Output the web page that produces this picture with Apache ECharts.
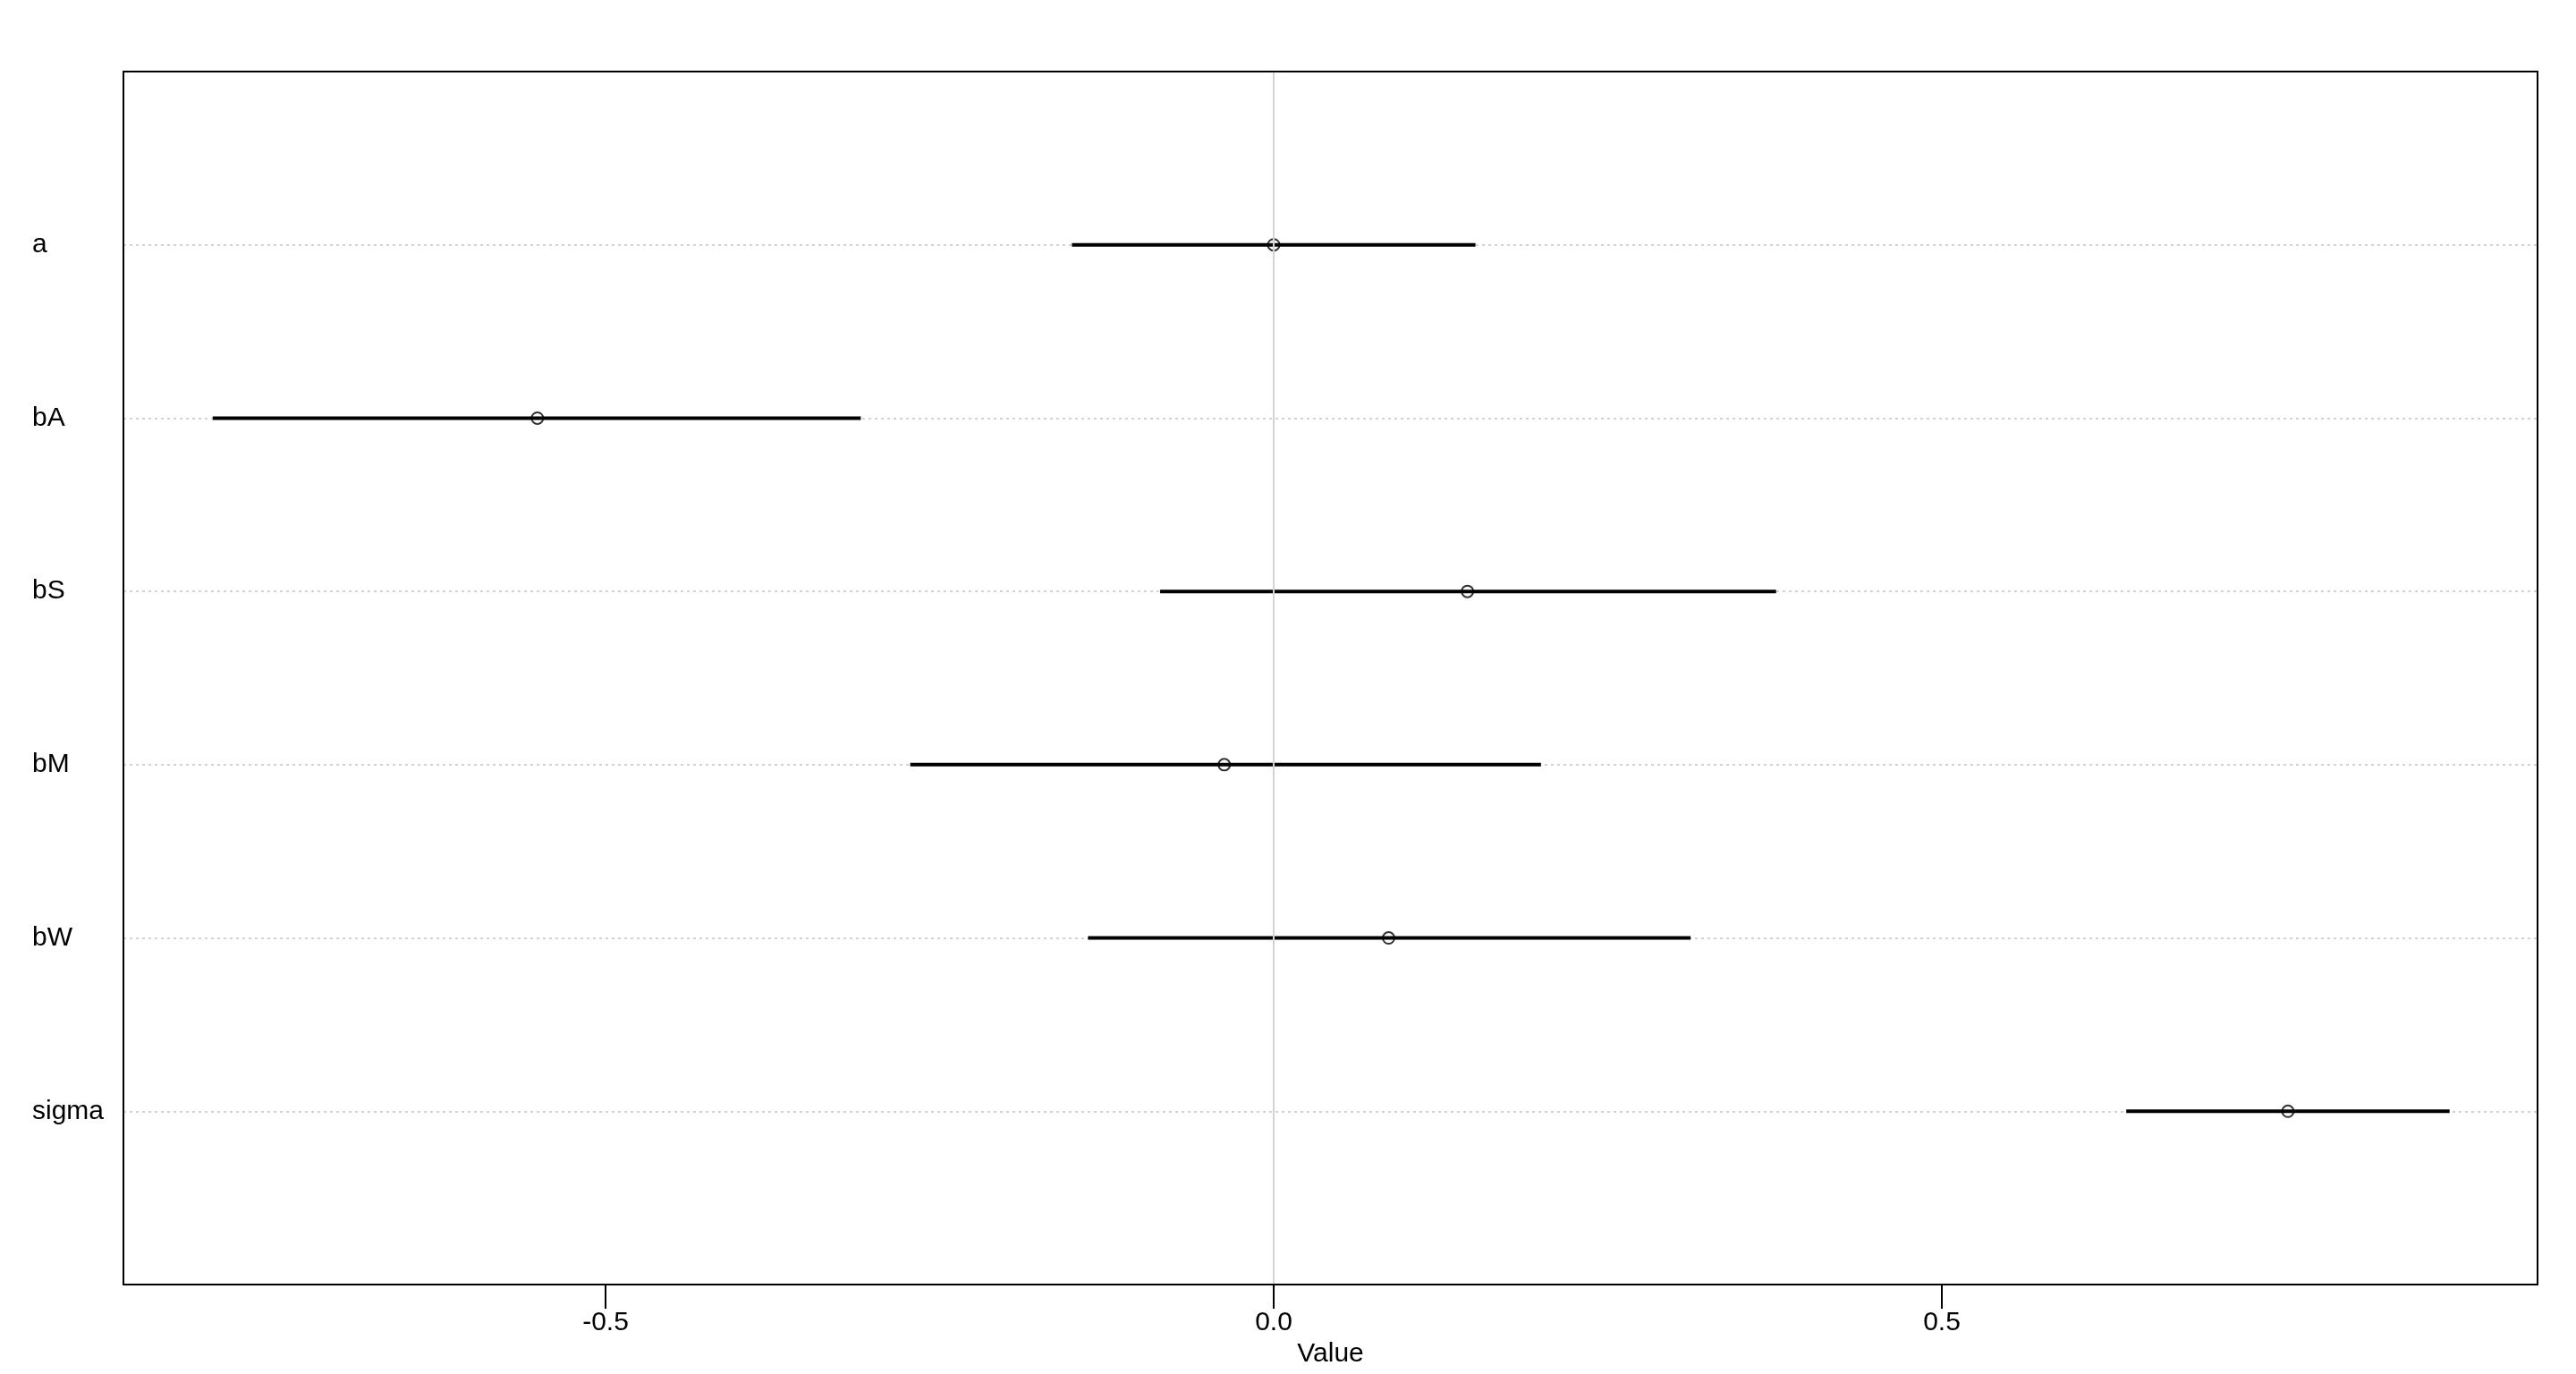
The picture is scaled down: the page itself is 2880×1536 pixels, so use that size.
<!DOCTYPE html>
<html>
<head>
<meta charset="utf-8">
<script src="https://cdn.jsdelivr.net/npm/echarts@6/dist/echarts.min.js"></script>
<style>
html,body{margin:0;padding:0;background:#fff;}
#chart{width:2880px;height:1536px;}
</style>
</head>
<body>
<div id="chart"></div>
<script>
// Parameter names (top to bottom)
const params = ['a', 'bA', 'bS', 'bM', 'bW', 'sigma'];
// Posterior means
const means = [0.000, -0.551, 0.145, -0.037, 0.086, 0.759];
// Interval lower bounds
const lower = [-0.151, -0.794, -0.085, -0.272, -0.139, 0.638];
// Interval upper bounds
const upper = [0.151, -0.309, 0.376, 0.200, 0.312, 0.880];
// X tick values
const xTicks = [-0.5, 0.0, 0.5];

const segData = params.map((p, i) => [lower[i], upper[i], i + 1]);
const ptData = params.map((p, i) => [means[i], i + 1]);

const chart = echarts.init(document.getElementById('chart'), null, {renderer: 'canvas'});
const font = 'Liberation Sans, Arial, sans-serif';
const XMIN = -0.8608, XMAX = 0.9458;
const boxLine = {show: true, onZero: false, lineStyle: {color: '#000', width: 2}};

chart.setOption({
  backgroundColor: '#ffffff',
  animation: false,
  grid: {left: 138, top: 80, width: 2699, height: 1356, show: false},
  xAxis: [{
    type: 'value', position: 'bottom', z: 5,
    min: XMIN, max: XMAX,
    name: 'Value',
    nameLocation: 'middle',
    nameGap: 62,
    nameTextStyle: {fontFamily: font, fontSize: 30, color: '#000'},
    axisLine: boxLine,
    axisTick: {show: true, inside: false, length: 27, customValues: xTicks,
      lineStyle: {color: '#000', width: 2}},
    axisLabel: {show: true, customValues: xTicks, margin: 28,
      fontFamily: font, fontSize: 30, color: '#000',
      formatter: v => v.toFixed(1)},
    splitLine: {show: false}
  }, {
    type: 'value', position: 'top', z: 5,
    min: XMIN, max: XMAX,
    axisLine: boxLine,
    axisTick: {show: false}, axisLabel: {show: false}, splitLine: {show: false}
  }],
  yAxis: [{
    type: 'value', position: 'left', z: 1,
    min: 0, max: 7, interval: 1,
    inverse: true,
    axisLine: {show: false},
    axisTick: {show: false},
    axisLabel: {show: true, align: 'left', margin: 102, padding: [10, 0, 0, 0],
      fontFamily: font, fontSize: 30, color: '#000',
      formatter: v => params[v - 1] || ''},
    splitLine: {show: true, lineStyle: {color: '#c4c4c4', width: 1.5, type: [3, 4]}}
  }, {
    type: 'value', position: 'left', z: 5,
    min: 0, max: 7, inverse: true,
    axisLine: boxLine,
    axisTick: {show: false}, axisLabel: {show: false}, splitLine: {show: false}
  }, {
    type: 'value', position: 'right', z: 5,
    min: 0, max: 7, inverse: true,
    axisLine: boxLine,
    axisTick: {show: false}, axisLabel: {show: false}, splitLine: {show: false}
  }],
  series: [
    {
      type: 'scatter', data: [], z: 1, silent: true,
      markLine: {
        silent: true, symbol: 'none', label: {show: false},
        lineStyle: {color: '#d3d3d3', width: 2, type: 'solid'},
        data: [{xAxis: 0}]
      }
    },
    {
      type: 'custom', z: 3, silent: true,
      data: segData,
      renderItem: (params, api) => {
        const p1 = api.coord([api.value(0), api.value(2)]);
        const p2 = api.coord([api.value(1), api.value(2)]);
        return {
          type: 'line',
          shape: {x1: p1[0], y1: p1[1], x2: p2[0], y2: p2[1]},
          style: {stroke: '#000', lineWidth: 4}
        };
      }
    },
    {
      type: 'scatter', z: 4, silent: true,
      data: ptData,
      symbol: 'circle', symbolSize: 13,
      itemStyle: {color: 'rgba(255,255,255,0)', borderColor: '#000', borderWidth: 2}
    }
  ]
});
</script>
</body>
</html>
